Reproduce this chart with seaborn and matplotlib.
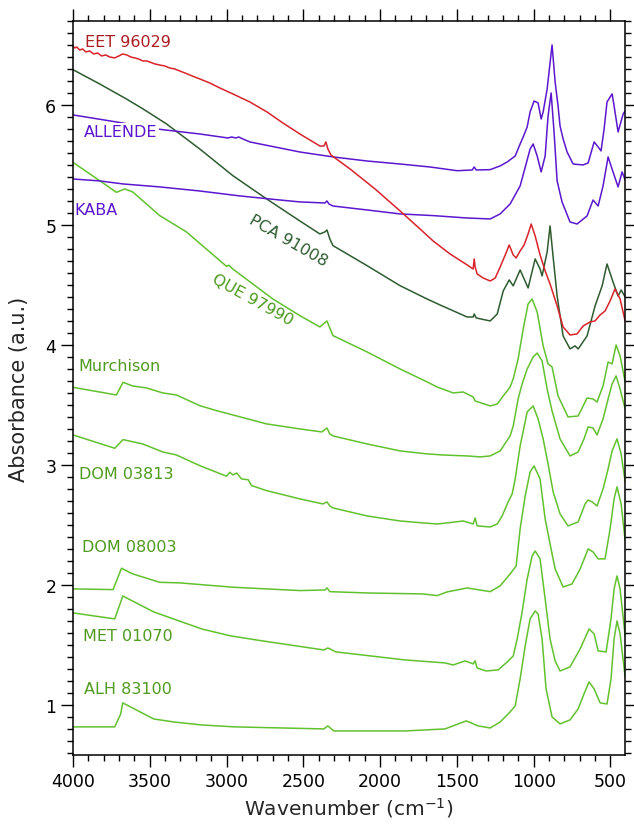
import matplotlib
matplotlib.use("Agg")
import matplotlib.pyplot as plt
from matplotlib.ticker import MultipleLocator
import seaborn as sns
import pandas as pd

# IR spectra: wavenumber (cm-1) and offset absorbance
EET_WN = [4000, 3989, 3976, 3956, 3937, 3917, 3891, 3865, 3839, 3813,
          3787, 3761, 3728, 3702, 3676, 3650, 3624, 3598, 3572, 3546,
          3520, 3500, 3467, 3435, 3402, 3370, 3337, 3304, 3272, 3239,
          3207, 3174, 3109, 3044, 2959, 2848, 2737, 2633, 2522, 2457,
          2392, 2366, 2353, 2340, 2320, 2196, 2033, 1870, 1740, 1655,
          1544, 1433, 1394, 1387, 1381, 1368, 1329, 1283, 1250, 1218,
          1185, 1159, 1133, 1114, 1088, 1062, 1036, 1016, 990, 958,
          925, 893, 847, 808, 763, 717, 678, 632, 600, 567,
          535, 502, 470, 437, 404]
EET_ABS = [6.49, 6.475, 6.483, 6.458, 6.467, 6.442, 6.45, 6.425, 6.433, 6.408,
           6.417, 6.40, 6.392, 6.408, 6.425, 6.417, 6.40, 6.392, 6.383, 6.367,
           6.367, 6.358, 6.342, 6.333, 6.325, 6.308, 6.30, 6.283, 6.267, 6.25,
           6.233, 6.217, 6.183, 6.142, 6.092, 6.025, 5.942, 5.85, 5.758, 5.708,
           5.658, 5.658, 5.692, 5.633, 5.583, 5.467, 5.30, 5.117, 4.967, 4.867,
           4.758, 4.667, 4.633, 4.717, 4.65, 4.592, 4.558, 4.533, 4.558, 4.65,
           4.75, 4.833, 4.75, 4.725, 4.783, 4.833, 4.925, 5.008, 4.908, 4.75,
           4.617, 4.508, 4.325, 4.15, 4.083, 4.092, 4.158, 4.192, 4.20, 4.25,
           4.283, 4.367, 4.467, 4.383, 4.20]

ALLENDE_WN = [4000, 3715, 3454, 3174, 2992, 2966, 2940, 2920, 2894, 2848,
              2783, 2522, 2307, 2085, 1870, 1674, 1498, 1400, 1387, 1374,
              1283, 1218, 1172, 1120, 1088, 1068, 1042, 1023, 997, 971,
              951, 938, 912, 880, 860, 841, 828, 808, 782, 743,
              678, 645, 606, 580, 561, 541, 522, 489, 476, 450,
              417, 404]
ALLENDE_ABS = [5.917, 5.858, 5.80, 5.758, 5.725, 5.733, 5.725, 5.733, 5.717, 5.692,
               5.675, 5.608, 5.567, 5.533, 5.508, 5.483, 5.452, 5.458, 5.483, 5.458,
               5.461, 5.492, 5.525, 5.575, 5.675, 5.733, 5.817, 5.942, 6.033, 6.017,
               5.883, 5.942, 6.133, 6.50, 6.192, 5.992, 5.825, 5.717, 5.608, 5.508,
               5.50, 5.517, 5.692, 5.65, 5.617, 5.80, 6.025, 6.092, 5.992, 5.775,
               5.925, 5.95]

KABA_WN = [4000, 3826, 3676, 3435, 3174, 2913, 2652, 2522, 2359, 2346,
           2333, 2307, 2085, 1870, 1655, 1433, 1283, 1218, 1153, 1088,
           1049, 1023, 1003, 977, 951, 925, 906, 886, 867, 847,
           815, 763, 717, 652, 613, 580, 548, 515, 483, 450,
           424, 404]
KABA_ABS = [5.383, 5.367, 5.342, 5.317, 5.283, 5.242, 5.208, 5.192, 5.183, 5.20,
            5.175, 5.158, 5.125, 5.092, 5.078, 5.058, 5.05, 5.092, 5.175, 5.325,
            5.508, 5.633, 5.675, 5.575, 5.442, 5.575, 5.908, 6.10, 5.775, 5.367,
            5.192, 5.025, 5.008, 5.075, 5.208, 5.158, 5.325, 5.567, 5.442, 5.317,
            5.442, 5.375]

PCA_WN = [4000, 3826, 3652, 3544, 3391, 3174, 2959, 2739, 2522, 2392,
          2359, 2346, 2327, 2307, 2085, 1870, 1694, 1609, 1433, 1394,
          1387, 1374, 1283, 1237, 1198, 1159, 1133, 1088, 1062, 1036,
          990, 958, 945, 912, 893, 873, 847, 808, 763, 730,
          710, 652, 600, 554, 522, 483, 450, 430, 404]
PCA_ABS = [6.294, 6.175, 6.05, 5.967, 5.842, 5.633, 5.411, 5.217, 5.033, 4.925,
           4.942, 4.958, 4.883, 4.828, 4.661, 4.494, 4.383, 4.333, 4.233, 4.233,
           4.258, 4.225, 4.20, 4.258, 4.45, 4.542, 4.492, 4.625, 4.55, 4.475,
           4.717, 4.633, 4.575, 4.775, 4.992, 4.733, 4.408, 4.075, 3.967, 3.992,
           3.967, 4.075, 4.325, 4.492, 4.675, 4.525, 4.408, 4.458, 4.40]

QUE_WN = [4000, 3826, 3717, 3663, 3611, 3435, 3261, 3000, 2985, 2959,
          2698, 2522, 2392, 2346, 2307, 2085, 1870, 1694, 1629, 1524,
          1459, 1394, 1381, 1283, 1237, 1198, 1172, 1153, 1133, 1101,
          1068, 1036, 1010, 977, 938, 906, 880, 841, 776, 710,
          652, 613, 587, 548, 515, 489, 463, 437, 404]
QUE_ABS = [5.522, 5.369, 5.272, 5.30, 5.275, 5.078, 4.942, 4.655, 4.665, 4.633,
           4.383, 4.244, 4.15, 4.20, 4.078, 3.942, 3.80, 3.692, 3.65, 3.60,
           3.608, 3.567, 3.533, 3.492, 3.508, 3.575, 3.617, 3.65, 3.717, 3.883,
           4.133, 4.342, 4.383, 4.275, 3.992, 3.842, 3.817, 3.575, 3.40, 3.408,
           3.558, 3.55, 3.525, 3.658, 3.858, 3.842, 4.0, 3.908, 3.692]

MURCH_WN = [4000, 3717, 3674, 3611, 3522, 3415, 3326, 3174, 3066, 2739,
            2522, 2379, 2346, 2327, 2307, 2085, 1870, 1694, 1590, 1433,
            1348, 1283, 1218, 1153, 1133, 1101, 1075, 1042, 1003, 977,
            945, 912, 880, 828, 763, 710, 672, 645, 613, 587,
            548, 515, 489, 463, 437, 404]
MURCH_ABS = [3.647, 3.583, 3.689, 3.658, 3.642, 3.60, 3.583, 3.494, 3.453, 3.342,
             3.30, 3.275, 3.308, 3.258, 3.242, 3.175, 3.117, 3.092, 3.083, 3.075,
             3.067, 3.075, 3.117, 3.242, 3.325, 3.55, 3.675, 3.80, 3.90, 3.933,
             3.867, 3.633, 3.45, 3.217, 3.075, 3.108, 3.217, 3.317, 3.308, 3.25,
             3.383, 3.55, 3.675, 3.742, 3.633, 3.467]

DOM03813_WN = [4000, 3728, 3674, 3546, 3415, 3326, 3174, 3000, 2979, 2959,
               2933, 2902, 2859, 2837, 2739, 2522, 2372, 2346, 2327, 2307,
               2085, 1870, 1720, 1629, 1563, 1459, 1394, 1381, 1368, 1283,
               1237, 1205, 1166, 1140, 1120, 1088, 1042, 1003, 971, 938,
               906, 873, 828, 776, 710, 665, 645, 619, 587, 548,
               515, 489, 457, 430, 404]
DOM03813_ABS = [3.25, 3.139, 3.211, 3.175, 3.108, 3.083, 2.994, 2.906, 2.939, 2.917,
                2.933, 2.883, 2.877, 2.828, 2.786, 2.717, 2.675, 2.692, 2.658, 2.642,
                2.575, 2.533, 2.517, 2.508, 2.517, 2.533, 2.508, 2.558, 2.492, 2.483,
                2.508, 2.575, 2.692, 2.758, 2.883, 3.158, 3.442, 3.492, 3.383, 3.217,
                3.008, 2.775, 2.592, 2.492, 2.525, 2.675, 2.708, 2.692, 2.658, 2.80,
                2.967, 3.117, 3.217, 3.092, 2.858]

DOM08003_WN = [4000, 3739, 3684, 3611, 3435, 3304, 2959, 2522, 2359, 2346,
               2327, 2085, 1720, 1629, 1563, 1433, 1283, 1218, 1153, 1114,
               1088, 1055, 1023, 997, 958, 925, 893, 860, 808, 750,
               697, 645, 613, 580, 535, 502, 476, 457, 430, 404]
DOM08003_ABS = [1.967, 1.961, 2.139, 2.092, 2.022, 2.017, 1.981, 1.953, 1.958, 1.975,
                1.944, 1.933, 1.925, 1.911, 1.942, 1.975, 1.944, 1.992, 2.092, 2.158,
                2.467, 2.742, 2.942, 2.992, 2.883, 2.55, 2.342, 2.133, 1.983, 2.008,
                2.133, 2.30, 2.275, 2.217, 2.217, 2.467, 2.717, 2.817, 2.675, 2.367]

MET_WN = [4000, 3728, 3689, 3676, 3474, 3161, 2972, 2763, 2366, 2340,
          2288, 1838, 1577, 1524, 1446, 1394, 1381, 1368, 1309, 1231,
          1172, 1133, 1107, 1075, 1042, 1010, 990, 958, 925, 893,
          860, 828, 763, 697, 639, 606, 580, 528, 496, 476,
          457, 437, 404]
MET_ABS = [1.767, 1.717, 1.858, 1.908, 1.775, 1.633, 1.575, 1.533, 1.458, 1.475,
           1.442, 1.375, 1.35, 1.333, 1.367, 1.342, 1.367, 1.308, 1.283, 1.292,
           1.358, 1.408, 1.55, 1.775, 2.05, 2.242, 2.283, 2.217, 1.883, 1.55,
           1.367, 1.283, 1.317, 1.467, 1.633, 1.592, 1.45, 1.442, 1.717, 1.967,
           2.075, 1.967, 1.575]

ALH_WN = [4000, 3728, 3689, 3676, 3474, 3344, 3161, 2946, 2366, 2340,
          2301, 1838, 1577, 1439, 1361, 1283, 1218, 1153, 1120, 1088,
          1055, 1023, 990, 971, 945, 919, 880, 828, 763, 710,
          672, 639, 606, 567, 522, 496, 476, 457, 437, 404]
ALH_ABS = [0.817, 0.817, 0.925, 1.017, 0.883, 0.858, 0.833, 0.817, 0.80, 0.825,
           0.783, 0.783, 0.80, 0.867, 0.825, 0.808, 0.858, 0.942, 0.992, 1.217,
           1.492, 1.717, 1.783, 1.758, 1.55, 1.133, 0.90, 0.842, 0.875, 0.967,
           1.092, 1.192, 1.133, 1.017, 1.008, 1.217, 1.55, 1.70, 1.592, 1.233]

# drawing order: greens at the back, EET on top
SAMPLES = ["ALH 83100", "MET 01070", "DOM 08003", "DOM 03813", "Murchison",
           "QUE 97990", "PCA 91008", "KABA", "ALLENDE", "EET 96029"]
SPECTRA = [(ALH_WN, ALH_ABS), (MET_WN, MET_ABS), (DOM08003_WN, DOM08003_ABS),
           (DOM03813_WN, DOM03813_ABS), (MURCH_WN, MURCH_ABS), (QUE_WN, QUE_ABS),
           (PCA_WN, PCA_ABS), (KABA_WN, KABA_ABS), (ALLENDE_WN, ALLENDE_ABS),
           (EET_WN, EET_ABS)]

RED, PURPLE, DKGREEN, GREEN = "#d8232a", "#5b17cf", "#2f5b30", "#62c12e"
LINE_COLORS = {"ALH 83100": GREEN, "MET 01070": GREEN, "DOM 08003": GREEN,
               "DOM 03813": GREEN, "Murchison": GREEN, "QUE 97990": GREEN,
               "PCA 91008": DKGREEN, "KABA": PURPLE, "ALLENDE": PURPLE,
               "EET 96029": RED}

# label text, anchor (wavenumber, absorbance), colour, rotation, alignment
LABELS = [
    ("EET 96029", 3924, 6.53, "#ad1c22", 0, "left"),
    ("ALLENDE", 3930, 5.775, PURPLE, 0, "left"),
    ("KABA", 3989, 5.13, PURPLE, 0, "left"),
    ("PCA 91008", 2600, 4.875, DKGREEN, -30, "center"),
    ("QUE 97990", 2829, 4.383, "#4f9a1f", -29, "center"),
    ("Murchison", 3963, 3.83, "#4f9a1f", 0, "left"),
    ("DOM 03813", 3963, 2.925, "#4f9a1f", 0, "left"),
    ("DOM 08003", 3943, 2.317, "#4f9a1f", 0, "left"),
    ("MET 01070", 3937, 1.575, "#4f9a1f", 0, "left"),
    ("ALH 83100", 3930, 1.133, "#4f9a1f", 0, "left"),
]

frames = []
for order, (name, (wn, ab)) in enumerate(zip(SAMPLES, SPECTRA)):
    frames.append(pd.DataFrame({"wn": wn, "abs": ab, "sample": name, "order": order}))
df = pd.concat(frames, ignore_index=True)

sns.set_style("ticks")
plt.rcParams["font.family"] = ["DejaVu Sans"]

fig = plt.figure(figsize=(6.34, 8.29), dpi=100)
ax = fig.add_axes([0.1151, 0.0881, 0.8707, 0.8854])

for name in SAMPLES:
    sns.lineplot(data=df[df["sample"] == name], x="wn", y="abs",
                 sort=False, estimator=None, color=LINE_COLORS[name],
                 linewidth=1.1, ax=ax)

for text, wn, ab, col, rot, ha in LABELS:
    kw = {}
    if text == "ALLENDE":
        kw["bbox"] = dict(facecolor="white", edgecolor="none", pad=1.0)
    ax.text(wn, ab, text, color=col, fontsize=11.5, rotation=rot,
            ha=ha, va="center", rotation_mode="anchor", **kw)

ax.set_xlim(4000, 405)
ax.set_ylim(0.583, 6.7)
ax.xaxis.set_major_locator(MultipleLocator(500))
ax.xaxis.set_minor_locator(MultipleLocator(100))
ax.yaxis.set_major_locator(MultipleLocator(1))
ax.yaxis.set_minor_locator(MultipleLocator(0.1))
ax.tick_params(which="both", direction="out", top=True, right=True,
               width=1.0, colors="black", labelsize=12.5)
ax.tick_params(which="major", length=8.5)
ax.tick_params(which="minor", length=4.5)
for sp in ax.spines.values():
    sp.set_linewidth(1.1)
    sp.set_color("black")

ax.set_xlabel("Wavenumber (cm$^{-1}$)", fontsize=14.5, labelpad=4)
ax.set_ylabel("Absorbance (a.u.)", fontsize=15, labelpad=12)

fig.savefig("out.png", dpi=100)
